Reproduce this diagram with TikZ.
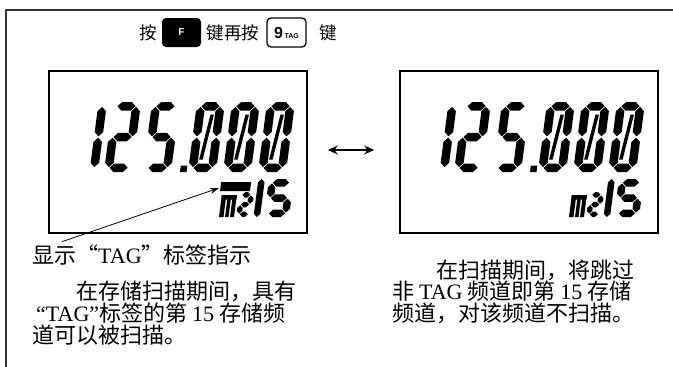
\documentclass[tikz,border=0pt]{standalone}
\usepackage{fontspec}
\setmainfont{Noto Sans CJK SC}
\newfontfamily\latf{Liberation Serif}
\newfontfamily\keyf{Liberation Sans}
\usetikzlibrary{arrows.meta}

\newcommand\segH[3]{\fill ({#1},{#3}) -- ({#1+\lcdT/2},{#3+\lcdT/2}) -- ({#2-\lcdT/2},{#3+\lcdT/2}) -- ({#2},{#3}) -- ({#2-\lcdT/2},{#3-\lcdT/2}) -- ({#1+\lcdT/2},{#3-\lcdT/2}) -- cycle;}
\newcommand\segV[3]{\fill ({#1},{#2}) -- ({#1+\lcdT/2},{#2+\lcdT/2}) -- ({#1+\lcdT/2},{#3-\lcdT/2}) -- ({#1},{#3}) -- ({#1-\lcdT/2},{#3-\lcdT/2}) -- ({#1-\lcdT/2},{#2+\lcdT/2}) -- cycle;}
\newcommand\lcdsega{\segH{\lcdT/2+0.7}{\lcdW-\lcdT/2-0.7}{\lcdH-\lcdT/2}}
\newcommand\lcdsegb{\segV{\lcdW-\lcdT/2}{\lcdH/2+0.7}{\lcdH-\lcdT/2-0.7}}
\newcommand\lcdsegc{\segV{\lcdW-\lcdT/2}{\lcdT/2+0.7}{\lcdH/2-0.7}}
\newcommand\lcdsegd{\segH{\lcdT/2+0.7}{\lcdW-\lcdT/2-0.7}{\lcdT/2}}
\newcommand\lcdsege{\segV{\lcdT/2}{\lcdT/2+0.7}{\lcdH/2-0.7}}
\newcommand\lcdsegf{\segV{\lcdT/2}{\lcdH/2+0.7}{\lcdH-\lcdT/2-0.7}}
\newcommand\lcdsegg{\segH{\lcdT/2+0.7}{\lcdW-\lcdT/2-0.7}{\lcdH/2}}
\newcommand\lcdsegv{\segV{\lcdW-\lcdT/2}{0}{\lcdH}}
\newcommand\lcdsegs{\fill ({\lcdT+1},{\lcdT+4}) -- ({\lcdT+4.5},{\lcdT+4}) -- ({\lcdW-\lcdT-1},{\lcdH-\lcdT-4}) -- ({\lcdW-\lcdT-4.5},{\lcdH-\lcdT-4}) -- cycle;}
\newcommand\lcdsegp{\fill (0,0) rectangle (\lcdT,\lcdT);}
\newcommand\lcdnum[5]{\begin{scope}[shift={#1},x=1pt,y=1pt,xslant=0.13]\def\lcdW{#2}\def\lcdH{#3}\def\lcdT{#4}\foreach \s in {#5}{\csname lcdseg\s\endcsname}\end{scope}}
\newcommand\lcdpanel[1]{%
\begin{scope}[xshift=#1]
 \lcdnum{(70,172)}{28}{70}{8.5}{b,c}
 \lcdnum{(104,172)}{28}{70}{8.5}{a,b,g,e,d}
 \lcdnum{(143,172)}{28}{70}{8.5}{a,f,g,c,d}
 \lcdnum{(180,172)}{6}{6}{6.5}{p}
 \lcdnum{(188,172)}{28}{70}{8.5}{a,b,c,d,e,f,s}
 \lcdnum{(223,172)}{28}{70}{8.5}{a,b,c,d,e,f,s}
 \lcdnum{(258,172)}{28}{70}{8.5}{a,b,c,d,e,f,s}
 \begin{scope}[shift={(219,217)},x=1pt,y=1pt,xslant=0.13]
   \fill (0,0) rectangle (4.5,22); \fill (6,0) rectangle (9.5,18);
   \fill (11,0) rectangle (15,22); \fill (0,17.5) rectangle (15,22);
 \end{scope}
 \lcdnum{(236,217)}{15}{25}{5.5}{a,b,g,e,d}
 \lcdnum{(240,217)}{20}{38}{6.5}{v}
 \lcdnum{(264,217)}{25}{38}{7.5}{a,f,g,c,d}
\end{scope}}

\tikzset{
  txt/.style={font=\fontsize{17.5}{17.5}\selectfont, inner sep=0},
  para/.style={font=\fontsize{22}{22}\selectfont, inner sep=0, anchor=base west},
  fkey/.style={fill=black, rounded corners=4pt, minimum width=39pt, minimum height=29pt, inner sep=0, text=white, font=\keyf\bfseries\fontsize{10}{10}\selectfont},
  tkey/.style={draw, line width=1.3pt, rounded corners=4pt, minimum width=39pt, minimum height=29pt, inner sep=0},
  lcd/.style={draw, line width=1.6pt, minimum width=258pt, minimum height=162pt, inner sep=0},
  frameline/.style={line width=1.6pt, draw=black!80},
  tip/.style={{Stealth[length=10pt,width=9pt]}-{Stealth[length=10pt,width=9pt]}, line width=1.2pt}
}

\begin{document}
\begin{tikzpicture}[x=1pt,y=-1pt]
\useasboundingbox (0,0) rectangle (673,367);
\fill[white] (0,0) rectangle (673,367);
\draw[frameline] (6,367) -- (6,10) -- (673,10);

% top instruction row
\node[txt] (an1) at (148,32.5) {按};
\node[fkey] (kf) at (181.5,32.5) {F};
\node[txt] (jzan) at (233,32.5) {键再按};
\node[tkey] (k9) at (286.5,32.5) {{\keyf\bfseries\fontsize{16}{16}\selectfont 9}\hspace{1.5pt}{\keyf\bfseries\fontsize{7}{7}\selectfont TAG}};
\node[txt] (jian) at (328,32.5) {键};

% LCD boxes
\node[lcd] (lcdL) at (178,152) {};
\node[lcd] (lcdR) at (529,152) {};
\lcdpanel{0pt}
\lcdpanel{350pt}
\begin{scope}[shift={(220,191)},x=1pt,y=1pt,xslant=0.13]
  \fill (0,0) rectangle (30,9);
\end{scope}
\coordinate (tagpt) at (219,188);

\draw[tip] ([xshift=20pt,yshift=2pt]lcdL.east) -- ([xshift=-25pt,yshift=2pt]lcdR.west);

% texts
\node[para] (lab) at (32,263.5) {显示“{\latf TAG}”标签指示};
\draw[-{Stealth[length=9pt,width=6pt]}, line width=0.8pt] ([xshift=30pt,yshift=3pt]lab.north west) -- (tagpt);

\node[para] (l1) at (32,299.5) {\hspace*{2em}在存储扫描期间，具有};
\node[para] (l2) at (32,321.5) {{\latf\hspace*{4pt}“TAG”}标签的第 {\latf 15} 存储频};
\node[para] (l3) at (32,343.5) {道可以被扫描。};

\node[para] (r1) at (392,278.5) {\hspace*{2em}在扫描期间，将跳过};
\node[para] (r2) at (392,299.5) {非 {\latf TAG} 频道即第 {\latf 15} 存储};
\node[para] (r3) at (392,321.5) {频道，对该频道不扫描。};
\end{tikzpicture}
\end{document}
